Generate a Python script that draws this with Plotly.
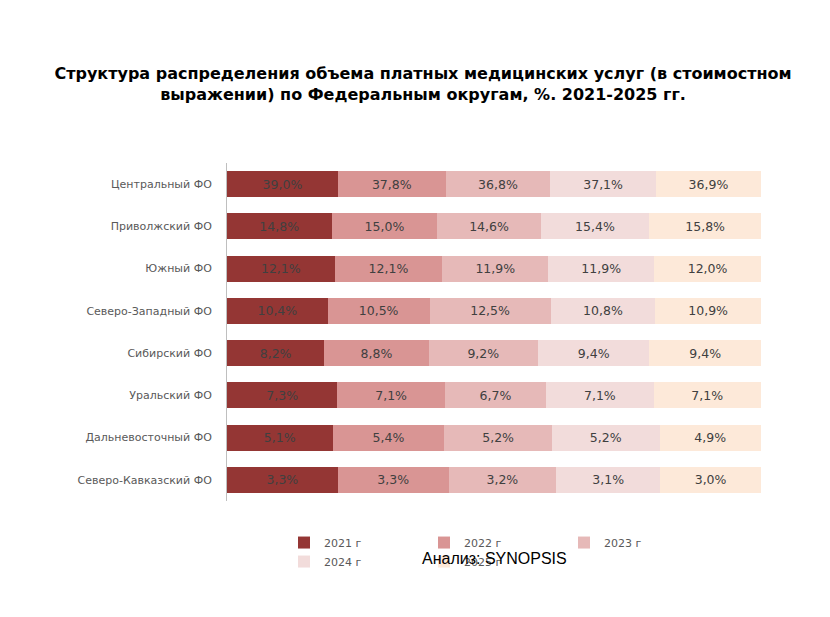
import plotly.graph_objects as go

regions = ["Центральный ФО","Приволжский ФО","Южный ФО","Северо-Западный ФО","Сибирский ФО","Уральский ФО","Дальневосточный ФО","Северо-Кавказский ФО"]
years = ["2021 г","2022 г","2023 г","2024 г","2025 г"]
v2021 = [39.0,14.8,12.1,10.4,8.2,7.3,5.1,3.3]
v2022 = [37.8,15.0,12.1,10.5,8.8,7.1,5.4,3.3]
v2023 = [36.8,14.6,11.9,12.5,9.2,6.7,5.2,3.2]
v2024 = [37.1,15.4,11.9,10.8,9.4,7.1,5.2,3.1]
v2025 = [36.9,15.8,12.0,10.9,9.4,7.1,4.9,3.0]
colors = ["#943634","#D99594","#E6B9B8","#F2DCDB","#FDE9D9"]

fig = go.Figure()
for name, vals, c in zip(years, [v2021,v2022,v2023,v2024,v2025], colors):
    fig.add_trace(go.Bar(
        y=regions, x=vals, name=name, orientation="h", marker=dict(color=c, line=dict(width=0)),
        text=[f"{v:.1f}%".replace(".", ",") for v in vals], textposition="inside",
        insidetextanchor="middle", textfont=dict(color="#404040", size=12.5),
    ))

fig.update_layout(
    barmode="stack", barnorm="percent", width=830, height=617,
    paper_bgcolor="white", plot_bgcolor="white",
    font=dict(family="DejaVu Sans", color="#595959", size=11),
    title=dict(text="<b>Структура распределения объема платных медицинских услуг (в стоимостном<br><span style='line-height:2'>выражении) по Федеральным округам, %. 2021-2025 гг.</span></b>",
               x=0.5, xanchor="center", y=0.885, yanchor="middle", font=dict(size=16, color="black")),
    margin=dict(l=219, r=77, t=155, b=124, autoexpand=False),
    bargap=0.38,
    xaxis=dict(visible=False, range=[0,100]),
    yaxis=dict(autorange="reversed", showline=True, linecolor="#BFBFBF", ticks="", ticklabelstandoff=12),
    legend=dict(orientation="h", x=0.5, xanchor="center", y=-0.08, yanchor="top", traceorder="normal",
                font=dict(size=11, color="#595959"), itemwidth=30, entrywidthmode="pixels", entrywidth=95),
    uniformtext=dict(minsize=10, mode="show"),
    annotations=[dict(text="Анализ: SYNOPSIS", x=0.5, xref="paper", y=-0.2, yref="paper",
                      showarrow=False, font=dict(size=16, color="black", family="Liberation Sans"))],
)
fig.write_html("out.html")
